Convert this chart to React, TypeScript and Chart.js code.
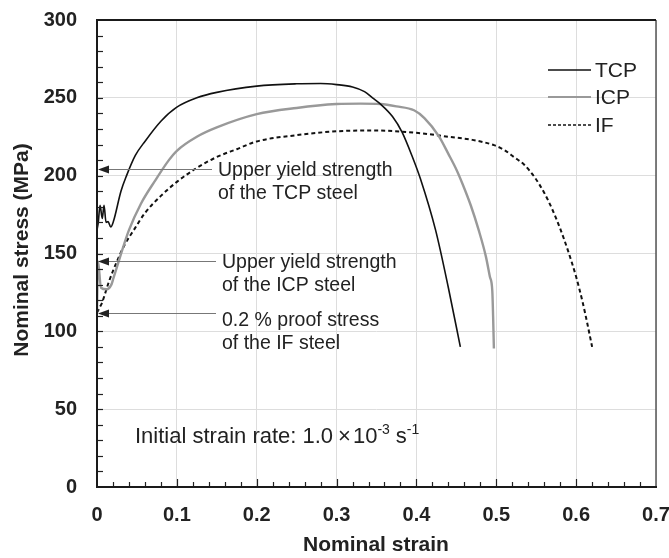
import { useEffect, useRef } from 'react';
import { Chart, registerables } from 'chart.js';

Chart.register(...registerables);

const tcpStrain = [0, 0.0016, 0.0038, 0.0066, 0.0088, 0.0113, 0.0138, 0.0172, 0.0205, 0.03, 0.037, 0.048, 0.06, 0.08, 0.1, 0.125, 0.15, 0.2, 0.25, 0.28, 0.3, 0.32, 0.335, 0.345, 0.355, 0.37, 0.382, 0.395, 0.405, 0.424, 0.44, 0.455];
const tcpStress = [165, 170, 181, 172.5, 181, 170, 170.5, 167, 170.5, 190, 200, 213, 222, 235, 244, 250, 253.5, 257.5, 259, 259.2, 258.5, 257, 254, 250, 246, 238, 228, 212, 198, 165, 128, 90];

const icpStrain = [0, 0.0012, 0.005, 0.012, 0.018, 0.0205, 0.029, 0.04, 0.055, 0.073, 0.09, 0.1, 0.125, 0.15, 0.2, 0.25, 0.3, 0.33, 0.355, 0.375, 0.397, 0.41, 0.428, 0.44, 0.45, 0.4575, 0.468, 0.478, 0.487, 0.492, 0.495, 0.496, 0.497];
const icpStress = [113, 145, 128, 127, 130, 134, 148, 165, 182, 197, 210, 216, 225, 231, 239.5, 243.5, 246, 246.3, 246, 244.5, 242, 237, 225.4, 214, 204, 195, 181, 165, 148, 135, 126, 110, 89];

const ifStrain = [0, 0.004, 0.006, 0.015, 0.025, 0.035, 0.046, 0.06, 0.08, 0.1, 0.125, 0.15, 0.175, 0.2, 0.25, 0.3, 0.35, 0.4, 0.44, 0.47, 0.497, 0.51, 0.522, 0.535, 0.548, 0.56, 0.57, 0.58, 0.59, 0.6, 0.608, 0.614, 0.62];
const ifStress = [112, 116, 118, 132, 145, 156, 165, 176, 187, 196, 205, 212, 217, 222, 226, 228.5, 229, 227.5, 225, 223, 219.6, 216.5, 212, 207, 199, 189, 178.5, 166, 151.5, 135, 119, 105, 90];

const seriesNames = ['TCP', 'ICP', 'IF'];
const xTicks = [0, 0.1, 0.2, 0.3, 0.4, 0.5, 0.6, 0.7];
const yTicks = [0, 50, 100, 150, 200, 250, 300];

const annotations = [
  { y: 204, lines: ['Upper yield strength', 'of the TCP steel'], tx: 218, arrowEnd: 212, dy: 0 },
  { y: 145.5, lines: ['Upper yield strength', 'of the ICP steel'], tx: 222, arrowEnd: 216, dy: 0 },
  { y: 112, lines: ['0.2 % proof stress', 'of the IF steel'], tx: 222, arrowEnd: 216, dy: 6 },
];

const xTitle = 'Nominal strain';
const yTitle = 'Nominal stress (MPa)';

const toPts = (xs: number[], ys: number[]) => xs.map((x, i) => ({ x, y: ys[i] }));

const SANS = '"Liberation Sans", Arial, sans-serif';

export default function App() {
  const ref = useRef<HTMLCanvasElement | null>(null);

  useEffect(() => {
    if (!ref.current) return;
    const colors = ['#111111', '#999999', '#111111'];
    const widths = [1.6, 2.4, 2];
    const dashes: number[][] = [[], [], [4, 3]];

    const overlay = {
      id: 'overlay',
      afterDraw(chart: any) {
        const ctx = chart.ctx as CanvasRenderingContext2D;
        const xs = chart.scales.x;
        const ys = chart.scales.y;
        const L = xs.getPixelForValue(0);
        const R = xs.getPixelForValue(0.7);
        const T = ys.getPixelForValue(300);
        const B = ys.getPixelForValue(0);
        ctx.save();
        ctx.strokeStyle = '#222';
        ctx.lineWidth = 1.2;
        for (let v = 10; v < 300; v += 10) {
          const py = Math.round(ys.getPixelForValue(v)) + 0.5;
          ctx.beginPath();
          ctx.moveTo(L, py);
          ctx.lineTo(L + 6, py);
          ctx.stroke();
        }
        for (let i = 1; i < 35; i++) {
          const v = i * 0.02;
          const px = Math.round(xs.getPixelForValue(v)) + 0.5;
          const major = i % 5 === 0;
          ctx.beginPath();
          ctx.moveTo(px, B);
          ctx.lineTo(px, B - (major ? 8 : 5));
          ctx.stroke();
        }
        ctx.strokeStyle = '#555';
        ctx.lineWidth = 1.5;
        ctx.beginPath();
        ctx.moveTo(R, T);
        ctx.lineTo(R, B);
        ctx.stroke();
        ctx.strokeStyle = '#1a1a1a';
        ctx.lineWidth = 2;
        ctx.beginPath();
        ctx.moveTo(R, T);
        ctx.lineTo(L, T);
        ctx.lineTo(L, B);
        ctx.lineTo(R + 1, B);
        ctx.stroke();

        ctx.font = `19.5px ${SANS}`;
        ctx.textBaseline = 'middle';
        ctx.textAlign = 'left';
        annotations.forEach((a) => {
          const py = Math.round(ys.getPixelForValue(a.y)) + 0.5;
          ctx.strokeStyle = '#777';
          ctx.lineWidth = 1;
          ctx.beginPath();
          ctx.moveTo(L + 10, py);
          ctx.lineTo(a.arrowEnd, py);
          ctx.stroke();
          ctx.fillStyle = '#222';
          ctx.beginPath();
          ctx.moveTo(L + 1, py);
          ctx.lineTo(L + 12, py - 4);
          ctx.lineTo(L + 12, py + 4);
          ctx.closePath();
          ctx.fill();
          a.lines.forEach((t, i) => ctx.fillText(t, a.tx, py + 1 + a.dy + i * 23));
        });

        let tx = 135;
        const ty = 437;
        const main1 = 'Initial strain rate: 1.0';
        ctx.font = `22px ${SANS}`;
        ctx.fillText(main1, tx, ty);
        tx += ctx.measureText(main1).width + 5;
        ctx.fillText('×', tx, ty);
        tx += ctx.measureText('×').width + 2;
        ctx.fillText('10', tx, ty);
        tx += ctx.measureText('10').width;
        ctx.font = `14px ${SANS}`;
        ctx.fillText('-3', tx, ty - 7);
        tx += ctx.measureText('-3').width + 6;
        ctx.font = `22px ${SANS}`;
        ctx.fillText('s', tx, ty);
        tx += ctx.measureText('s').width;
        ctx.font = `14px ${SANS}`;
        ctx.fillText('-1', tx, ty - 7);

        ctx.font = `21px ${SANS}`;
        const ly = [70, 97, 125];
        seriesNames.forEach((n, i) => {
          ctx.strokeStyle = colors[i];
          ctx.lineWidth = i === 1 ? 2 : 1.6;
          ctx.setLineDash(i === 2 ? [3, 2] : []);
          ctx.beginPath();
          ctx.moveTo(548, ly[i]);
          ctx.lineTo(591, ly[i]);
          ctx.stroke();
          ctx.setLineDash([]);
          ctx.fillStyle = '#222';
          ctx.fillText(n, 595, ly[i] + 1);
        });

        ctx.font = `bold 21px ${SANS}`;
        ctx.textAlign = 'center';
        ctx.fillStyle = '#222';
        ctx.fillText(xTitle, 376, 545);
        ctx.save();
        ctx.translate(22, 250);
        ctx.rotate(-Math.PI / 2);
        ctx.fillText(yTitle, 0, 0);
        ctx.restore();
        ctx.restore();
      },
    };

    const chart = new Chart(ref.current, {
      type: 'line',
      data: {
        datasets: [
          { label: seriesNames[0], data: toPts(tcpStrain, tcpStress) },
          { label: seriesNames[1], data: toPts(icpStrain, icpStress) },
          { label: seriesNames[2], data: toPts(ifStrain, ifStress) },
        ].map((d, i) => ({
          ...d,
          borderColor: colors[i],
          borderWidth: widths[i],
          borderDash: dashes[i],
          pointRadius: 0,
          fill: false,
          cubicInterpolationMode: 'monotone' as const,
        })),
      },
      options: {
        animation: false,
        responsive: false,
        maintainAspectRatio: false,
        devicePixelRatio: 1,
        layout: { padding: { top: 20, right: 13, left: 0, bottom: 0 } },
        plugins: { legend: { display: false }, tooltip: { enabled: false } },
        scales: {
          x: {
            type: 'linear',
            min: 0,
            max: 0.7,
            afterFit: (s: any) => { s.height = 71; s.paddingLeft = 0; s.paddingRight = 0; },
            afterBuildTicks: (s: any) => { s.ticks = xTicks.map((v) => ({ value: v })); },
            ticks: {
              padding: 16,
              color: '#222',
              font: { family: SANS, size: 20, weight: 'bold' },
              maxRotation: 0,
              autoSkip: false,
              callback: (v: any) => (v === 0 ? '0' : Number(v).toFixed(1)),
            },
            grid: { color: '#dddddd', lineWidth: 1, drawTicks: false },
            border: { display: false },
          },
          y: {
            type: 'linear',
            min: 0,
            max: 300,
            afterFit: (s: any) => { s.width = 97; s.paddingTop = 0; s.paddingBottom = 0; },
            afterBuildTicks: (s: any) => { s.ticks = yTicks.map((v) => ({ value: v })); },
            ticks: {
              padding: 20,
              color: '#222',
              font: { family: SANS, size: 20, weight: 'bold' },
              autoSkip: false,
            },
            grid: { color: '#dddddd', lineWidth: 1, drawTicks: false },
            border: { display: false },
          },
        },
      },
      plugins: [overlay],
    } as any);
    return () => chart.destroy();
  }, []);

  return (
    <div style={{ position: 'absolute', left: 0, top: 0, width: 669, height: 558, background: '#fff' }}>
      <canvas ref={ref} width={669} height={558} style={{ width: 669, height: 558, display: 'block' }} />
    </div>
  );
}
